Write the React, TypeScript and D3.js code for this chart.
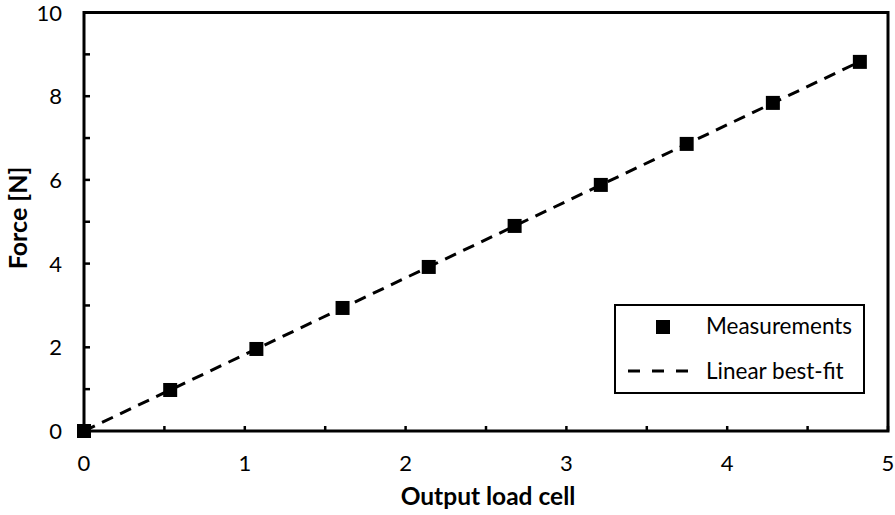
import React from "react";
import * as d3 from "d3";

const outputValues = [0, 0.536, 1.072, 1.608, 2.144, 2.678, 3.214, 3.748, 4.284, 4.825];
const forceValues = [0, 0.98, 1.96, 2.94, 3.92, 4.9, 5.88, 6.86, 7.84, 8.82];
const xTicks = [0, 1, 2, 3, 4, 5];
const xMinorTicks = [0.5, 1.5, 2.5, 3.5, 4.5];
const yTicks = [0, 2, 4, 6, 8, 10];
const yMinorTicks = [1, 3, 5, 7, 9];
const legendLabels = ["Measurements", "Linear best-fit"];

const W = 895;
const H = 515;
const FONT = "Lato, 'Open Sans', sans-serif";

export default function App() {
  const x = d3.scaleLinear().domain([0, 5]).range([84, 888]);
  const y = d3.scaleLinear().domain([0, 10]).range([431, 12.5]);

  const pts = outputValues.map((v, i) => ({ x: v, y: forceValues[i] }));
  // least-squares fit
  const mx = d3.mean(pts, (p) => p.x) as number;
  const my = d3.mean(pts, (p) => p.y) as number;
  const sxy = d3.sum(pts, (p) => (p.x - mx) * (p.y - my));
  const sxx = d3.sum(pts, (p) => (p.x - mx) * (p.x - mx));
  const slope = sxy / sxx;
  const intercept = my - slope * mx;
  const x0 = d3.min(outputValues) as number;
  const x1 = d3.max(outputValues) as number;
  const fitLine = d3.line<number>()
    .x((v) => x(v))
    .y((v) => y(slope * v + intercept))([x0, x1]);

  const ms = 14;
  const tickLen = 5;
  const [r0, r1] = x.range();
  const [b, t] = y.range();

  return (
    <svg
      width={W}
      height={H}
      style={{ position: "absolute", left: 0, top: 0, background: "#fff" }}
      fontFamily={FONT}
    >
      <rect x={0} y={0} width={W} height={H} fill="#fff" />
      {/* ticks */}
      {[...xTicks, ...xMinorTicks].map((v) => (
        <line key={"xt" + v} x1={x(v)} x2={x(v)} y1={b} y2={b - tickLen} stroke="#000" strokeWidth={2.5} />
      ))}
      {[...yTicks, ...yMinorTicks].map((v) => (
        <line key={"yt" + v} x1={r0} x2={r0 + tickLen + 1} y1={y(v)} y2={y(v)} stroke="#000" strokeWidth={2.5} />
      ))}
      {/* frame */}
      <rect x={r0} y={t} width={r1 - r0} height={b - t} fill="none" stroke="#000" strokeWidth={3} />
      {/* tick labels */}
      {xTicks.map((v) => (
        <text key={"xl" + v} x={x(v)} y={470.5} textAnchor="middle" fontSize={22} fill="#000">
          {v}
        </text>
      ))}
      {yTicks.map((v) => (
        <text key={"yl" + v} x={62} y={y(v) + 8} textAnchor="end" fontSize={22} fill="#000">
          {v}
        </text>
      ))}
      {/* axis titles */}
      <text x={488} y={505} textAnchor="middle" fontSize={24.5} fontWeight="bold" fill="#000">
        Output load cell
      </text>
      <text
        transform={`translate(27,218) rotate(-90)`}
        textAnchor="middle"
        fontSize={25}
        fontWeight="bold"
        fill="#000"
      >
        Force [N]
      </text>
      {/* fit line */}
      <path d={fitLine || ""} fill="none" stroke="#000" strokeWidth={3} strokeDasharray="12,8" />
      {/* markers */}
      {pts.map((p, i) => (
        <rect key={"m" + i} x={x(p.x) - ms / 2} y={y(p.y) - ms / 2} width={ms} height={ms} fill="#000" />
      ))}
      {/* legend */}
      <rect x={615} y={305} width={249} height={88} fill="#fff" stroke="#000" strokeWidth={2} />
      <rect x={663 - ms / 2} y={327 - ms / 2} width={ms} height={ms} fill="#000" />
      <text x={706} y={334} fontSize={22.5} fill="#000">{legendLabels[0]}</text>
      <line x1={628} x2={688} y1={371} y2={371} stroke="#000" strokeWidth={3} strokeDasharray="12,12" />
      <text x={706} y={379} fontSize={22.5} fill="#000">{legendLabels[1]}</text>
    </svg>
  );
}
